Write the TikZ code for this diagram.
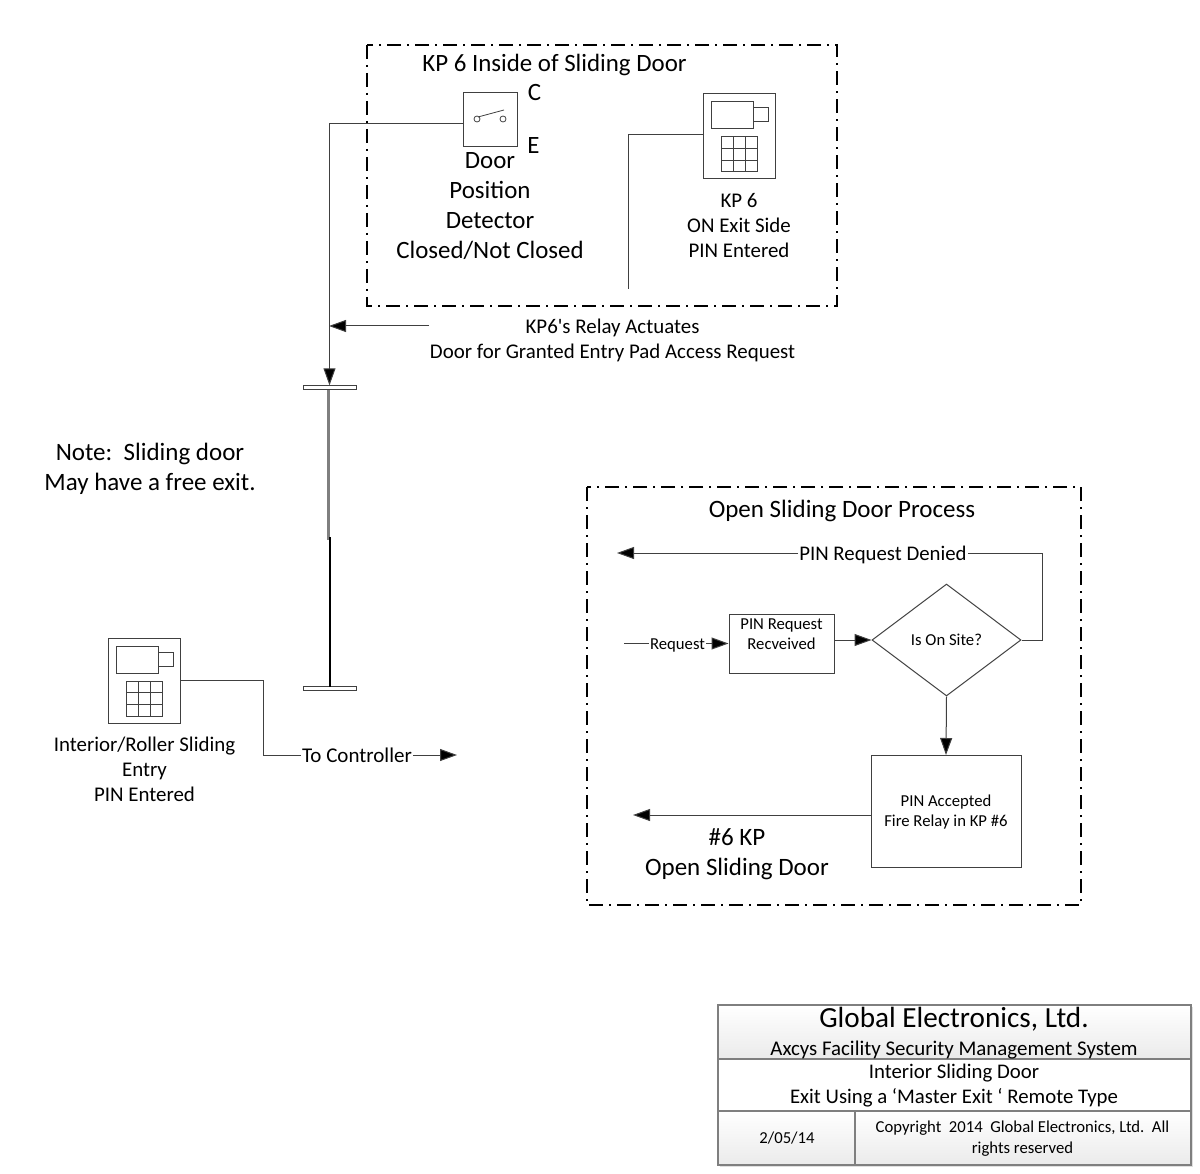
\documentclass[tikz,border=0pt]{standalone}
\usepackage{fontspec}
\setmainfont{Carlito}
\newfontfamily\plainfont{Carlito}
\usetikzlibrary{shapes.geometric, arrows.meta}
\definecolor{wiregray}{HTML}{404040}
\definecolor{blockgray}{HTML}{7F7F7F}
\newcommand{\lblsize}[2]{\fontsize{#1}{#2}\selectfont}
\tikzset{
  wire/.style={draw=wiregray, line width=1pt},
  flow/.style={wire, -{Triangle[length=17pt, width=12pt, fill=black]}},
  zone/.style={draw=black, line width=2pt, dash pattern=on 14pt off 6pt on 2pt off 6pt},
  procbox/.style={rectangle, draw=wiregray, line width=1pt, align=center},
  txt/.style={inner sep=0pt, align=center},
  online/.style={fill=white, inner sep=1pt},
  plate/.style={rectangle, draw=wiregray, line width=0.8pt, fill=white, minimum width=53pt, minimum height=3.5pt, inner sep=0pt},
  titlecell/.style={draw=blockgray, line width=1.1pt},
  keypad/.pic={
    \node[procbox, minimum width=72pt, minimum height=85pt, inner sep=0pt] (-body) at (36,42.5) {};
    \draw[wire] (8,8) rectangle (50,35);
    \draw[wire] (50,14) rectangle (65,28);
    \draw[wire] (18,43) rectangle (54,78);
    \foreach \gx in {30,42} {\draw[wire] (\gx,43) -- (\gx,78);}
    \foreach \gy in {54.7,66.3} {\draw[wire] (18,\gy) -- (54,\gy);}
  }
}
\begin{document}
\begin{tikzpicture}[x=1pt, y=-1pt]
\useasboundingbox (0,0) rectangle (1200,1174);

% Top zone
\draw[zone] (367,45) rectangle (837,306);
\node[txt, font=\lblsize{24.9}{28}] (kptitle) at (554.5,65) {KP 6 Inside of Sliding Door};

% Door position switch
\node[procbox, minimum width=54pt, minimum height=54pt, inner sep=0pt] (dpd) at (490,120) {};
\draw[wire, line width=0.8pt] (477,119) circle (3pt) (503,119) circle (3pt) (478,117) -- (504,110);
\coordinate (dpdport) at (463,124);
\node[txt, font=\lblsize{24.9}{26}] (contactc) at (534.5,93) {C};
\node[txt, font=\lblsize{24.9}{26}] (contacte) at (533.5,146) {E};
\node[txt, font=\lblsize{24.9}{30}] (dpdlabel) at (490,206.5) {Door\\Position\\Detector\\Closed/Not Closed};

% Exit side keypad
\pic (kpsix) at (703,94) {keypad};
\coordinate (kpsixport) at (703,135);
\coordinate (kpsixend) at (628,289);
\node[txt, font=\lblsize{20.9}{25}] (kpsixlabel) at (739,225.5) {KP 6\\ON Exit Side\\PIN Entered};
\draw[wire] (kpsixport) -| (kpsixend);

% Door
\node[plate] (doortop) at (329.5,387.5) {};
\node[plate] (doorbottom) at (329.5,688.5) {};
\fill[blockgray] (327,390) rectangle (330,540);
\fill[black] (329,537) rectangle (331.2,687);
\draw[flow] (dpdport) -| (doortop.north);

% Relay
\coordinate (relayend) at (429,326);
\coordinate (relaytip) at (329,326);
\draw[flow] (relayend) -- (relaytip);
\node[txt, font=\lblsize{20.9}{25}] (relaylabel) at (612.5,340.5) {KP6{\plainfont '}s Relay Actuates\\Door for Granted Entry Pad Access Request};

% Note
\node[txt, font=\lblsize{25}{30}] (note) at (150,468.5) {Note:\ \ Sliding door\\May have a free exit.};

% Entry keypad
\pic (kpentry) at (108,638) {keypad};
\node[txt, font=\lblsize{20.9}{25}] (kpentrylabel) at (144.5,769) {Interior/Roller Sliding\\Entry\\PIN Entered};
\node[online, font=\lblsize{21}{24}] (tocontroller) at (357,755) {To Controller};
\coordinate (controllertip) at (457,755);
\draw[wire] (kpentry-body.east) -| (263,755) -- (tocontroller.west |- controllertip);
\draw[flow] (tocontroller.east |- controllertip) -- (controllertip);

% Process zone
\draw[zone] (587,487) rectangle (1081,905);
\node[txt, font=\lblsize{25}{28}] (proctitle) at (842,510.5) {Open Sliding Door Process};

\node[procbox, minimum width=105pt, minimum height=59pt, inner sep=0pt] (pinreq) at (781.5,643.5) {};
\node[txt, font=\lblsize{16.7}{20}] (pinreqtext) at (781.5,634) {PIN Request\\Recveived};
\node[diamond, draw=wiregray, line width=1pt, minimum width=149pt, minimum height=112pt, inner sep=0pt, aspect=1.33, font=\lblsize{16.7}{20}] (onsite) at (946.5,640) {Is On Site?};
\node[procbox, minimum width=150pt, minimum height=112pt, inner sep=0pt] (accept) at (946,811.5) {};
\node[txt, font=\lblsize{16.7}{20}] (accepttext) at (946,812.5) {PIN Accepted\\Fire Relay in KP \#6};

\coordinate (reqstart) at (624,643.5);
\node[online, font=\lblsize{16.7}{20}] (reqlabel) at (677.5,645) {Request};
\draw[wire] (reqstart) -- (reqlabel.west |- reqstart);
\draw[flow] (reqlabel.east |- reqstart) -- (pinreq.west);
\draw[flow] (pinreq.east |- onsite.west) -- (onsite.west);
\draw[flow] (onsite.south) -- (accept.north);

\node[online, font=\lblsize{20.8}{24}] (denied) at (883,555) {PIN Request Denied};
\coordinate (deniedtip) at (617,553);
\draw[wire] (onsite.east) -- (1042,640) |- (denied.east |- deniedtip);
\draw[flow] (denied.west |- deniedtip) -- (deniedtip);

\coordinate (opentip) at (633,815);
\draw[flow] (accept.west |- opentip) -- (opentip);
\node[txt, font=\lblsize{25}{30}] (openlabel) at (737,854.5) {\#6 KP\\Open Sliding Door};

% Title block
\fill[gray!25] (720,1007) rectangle (1193,1167);
\draw[titlecell, top color=white, bottom color=gray!16] (718,1005) rectangle (1191,1059);
\draw[titlecell, fill=white] (718,1059) rectangle (1191,1111);
\draw[titlecell, top color=white, bottom color=gray!16] (718,1111) rectangle (855,1165);
\draw[titlecell, top color=white, bottom color=gray!16] (855,1111) rectangle (1191,1165);
\node[txt, font=\lblsize{29.2}{32}] (company) at (954,1019) {Global Electronics, Ltd.};
\node[txt, font=\lblsize{20.9}{24}] (system) at (954,1050) {Axcys Facility Security Management System};
\node[txt, font=\lblsize{20.8}{25}] (drawing) at (954,1086) {Interior Sliding Door\\Exit Using a ‘Master Exit ‘ Remote Type};
\node[txt, font=\lblsize{16.7}{20}] (datecell) at (787,1138) {2/05/14};
\node[txt, font=\lblsize{16.7}{21}] (copyright) at (1022.5,1139) {Copyright\ \ 2014\ \ Global Electronics, Ltd.\ \ All\\rights reserved};
\end{tikzpicture}
\end{document}
